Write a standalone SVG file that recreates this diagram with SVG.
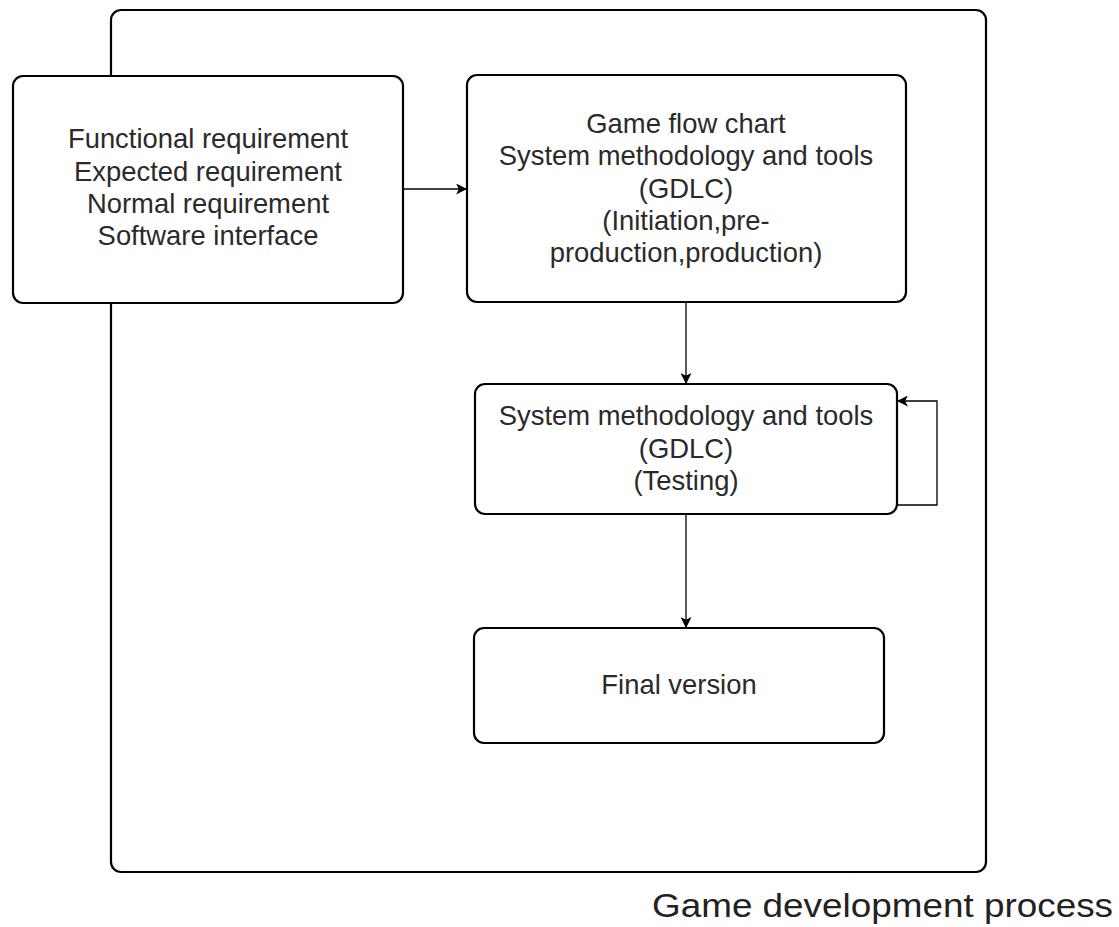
<svg xmlns="http://www.w3.org/2000/svg" width="1119" height="927" viewBox="0 0 1119 927">
  <style>
    .box { fill: #ffffff; stroke: #000000; stroke-width: 2.2; }
    .edge { fill: none; stroke: #000000; stroke-width: 1.3; }
    .label { font-family: "Liberation Sans", Arial, sans-serif; font-size: 27.4px; fill: #2a2a2a; text-anchor: middle; }
    .title { font-family: "Liberation Sans", Arial, sans-serif; font-size: 34px; fill: #222222; }
  </style>
  <defs>
    <marker id="arrow" viewBox="0 0 10 10" refX="9" refY="5" markerWidth="11" markerHeight="11" markerUnits="userSpaceOnUse" orient="auto">
      <path d="M0,0 L10,5 L0,10 L2.5,5 Z" fill="#000000"/>
    </marker>
  </defs>

  <rect width="1119" height="927" fill="#ffffff"/>

  <!-- process container -->
  <g id="container">
    <rect class="box" x="111" y="10" width="875" height="862" rx="10" ry="10"/>
  </g>

  <!-- connectors -->
  <g id="connectors">
    <path class="edge" d="M403,189 L466,189" marker-end="url(#arrow)"/>
    <path class="edge" d="M686,302 L686,383" marker-end="url(#arrow)"/>
    <path class="edge" d="M686,514 L686,627" marker-end="url(#arrow)"/>
    <path class="edge" d="M897,505 L937,505 L937,401 L898,401" marker-end="url(#arrow)"/>
  </g>

  <g id="requirements">
    <rect class="box" x="13" y="76" width="390" height="227" rx="10" ry="10"/>
    <text class="label" x="208" y="148">Functional requirement</text>
    <text class="label" x="208" y="181">Expected requirement</text>
    <text class="label" x="208" y="213">Normal requirement</text>
    <text class="label" x="208" y="245">Software interface</text>
  </g>

  <g id="design">
    <rect class="box" x="467" y="75" width="439" height="227" rx="10" ry="10"/>
    <text class="label" x="686" y="133">Game flow chart</text>
    <text class="label" x="686" y="165">System methodology and tools</text>
    <text class="label" x="686" y="198">(GDLC)</text>
    <text class="label" x="686" y="230">(Initiation,pre-</text>
    <text class="label" x="686" y="262">production,production)</text>
  </g>

  <g id="testing">
    <rect class="box" x="475" y="384" width="422" height="130" rx="10" ry="10"/>
    <text class="label" x="686" y="425">System methodology and tools</text>
    <text class="label" x="686" y="458">(GDLC)</text>
    <text class="label" x="686" y="490">(Testing)</text>
  </g>

  <g id="final">
    <rect class="box" x="474" y="628" width="410" height="115" rx="10" ry="10"/>
    <text class="label" x="679" y="694">Final version</text>
  </g>

  <text class="title" x="652" y="917" textLength="461" lengthAdjust="spacingAndGlyphs">Game development process</text>
</svg>
